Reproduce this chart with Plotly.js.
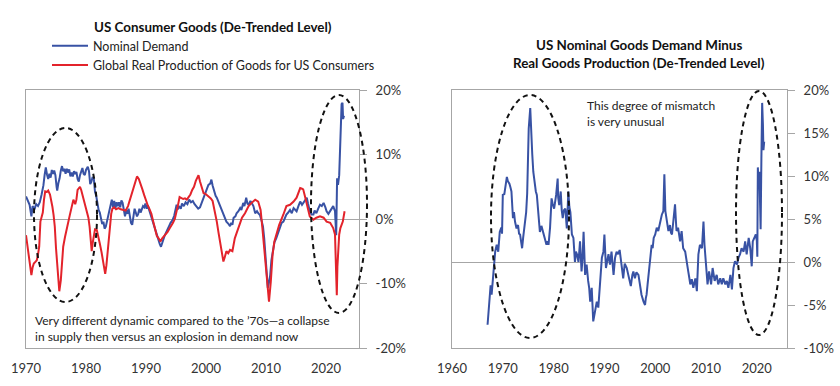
<!DOCTYPE html>
<html>
<head>
<meta charset="utf-8">
<script src="https://cdn.plot.ly/plotly-3.0.1.min.js"></script>
<style>html,body{margin:0;padding:0;background:#fff;}#chart{width:840px;height:386px;}</style>
</head>
<body>
<div id="chart"></div>
<script>
// ---- Left chart: US Consumer Goods (De-Trended Level), % ----
const demandYears = [1970.0,1970.3,1970.6,1970.9,1971.1,1971.4,1971.7,1972.0,1972.3,1972.6,1972.9,1973.1,1973.3,1973.5,1973.7,1973.9,1974.1,1974.3,1974.5,1974.7,1974.9,1975.1,1975.2,1975.4,1975.6,1975.8,1976.0,1976.2,1976.4,1976.6,1976.8,1977.0,1977.2,1977.4,1977.6,1977.8,1978.0,1978.2,1978.4,1978.6,1978.8,1979.0,1979.2,1979.4,1979.6,1979.8,1980.0,1980.3,1980.5,1980.7,1980.9,1981.1,1981.3,1981.5,1981.7,1981.9,1982.1,1982.3,1982.5,1982.7,1982.9,1983.1,1983.3,1983.5,1983.7,1983.9,1984.1,1984.3,1984.5,1984.7,1984.9,1985.1,1985.3,1985.5,1985.7,1985.9,1986.1,1986.3,1986.5,1986.7,1986.9,1987.1,1987.3,1987.5,1987.7,1987.9,1988.1,1988.3,1988.5,1988.7,1988.9,1989.1,1989.3,1989.5,1989.7,1989.9,1990.1,1990.3,1990.5,1990.7,1990.9,1991.1,1991.3,1991.5,1991.7,1991.9,1992.1,1992.3,1992.5,1992.7,1992.9,1993.1,1993.3,1993.6,1993.9,1994.1,1994.4,1994.7,1994.9,1995.1,1995.3,1995.5,1995.8,1996.0,1996.3,1996.6,1996.9,1997.2,1997.5,1997.8,1998.1,1998.4,1998.7,1999.0,1999.3,1999.6,1999.9,2000.1,2000.4,2000.7,2000.9,2001.1,2001.3,2001.6,2001.8,2002.1,2002.3,2002.6,2002.9,2003.1,2003.4,2003.7,2004.0,2004.2,2004.4,2004.6,2004.9,2005.1,2005.4,2005.7,2005.9,2006.2,2006.4,2006.7,2006.9,2007.1,2007.4,2007.6,2007.9,2008.2,2008.5,2008.7,2009.0,2009.3,2009.5,2009.7,2009.9,2010.1,2010.3,2010.5,2010.7,2010.9,2011.1,2011.4,2011.7,2012.0,2012.3,2012.6,2012.9,2013.2,2013.4,2013.7,2014.0,2014.3,2014.6,2014.9,2015.1,2015.4,2015.7,2016.0,2016.2,2016.5,2016.8,2017.0,2017.3,2017.6,2017.9,2018.1,2018.4,2018.7,2019.0,2019.3,2019.6,2019.9,2020.1,2020.4,2020.7,2020.9,2021.2,2021.5,2021.7,2021.85,2022.0,2022.2,2022.4,2022.6,2022.75,2022.85,2023.0];
const demandValues = [3.5,2.8,2.2,0.4,2.0,1.5,2.3,2.0,2.6,3.8,5.2,6.8,8.0,6.9,6.2,7.0,6.4,7.6,7.0,7.5,6.8,5.0,4.4,5.6,6.3,7.5,8.2,7.4,7.8,7.0,7.8,7.2,7.7,6.6,7.2,6.6,7.4,7.0,7.3,6.2,5.8,6.8,7.4,7.9,7.0,6.8,7.6,8.1,7.4,5.4,5.8,6.5,6.3,4.2,3.6,2.4,1.4,1.0,-0.2,-0.8,-0.4,-1.5,-1.2,-0.4,0.6,1.3,2.4,3.0,1.8,2.8,1.6,2.6,2.0,2.6,1.8,2.9,2.5,1.2,0.4,1.4,0.8,1.6,0.5,-0.6,-0.9,0.2,1.6,1.0,0.4,0.8,1.6,1.0,1.4,2.0,1.8,2.4,1.6,2.1,1.5,0.9,0.2,-0.4,-1.0,-1.7,-2.3,-2.9,-3.4,-3.9,-4.3,-3.6,-3.2,-2.6,-2.2,-1.7,-1.0,-0.6,-0.2,0.5,1.4,2.2,1.5,2.0,1.6,2.4,2.0,2.6,2.3,3.0,2.6,2.8,2.3,2.0,1.6,1.8,2.6,3.3,4.2,4.8,5.3,5.5,6.1,5.2,4.5,3.6,3.3,2.6,2.2,1.4,0.7,0.2,-0.4,-0.7,-1.1,-0.6,-0.9,0.2,0.4,0.9,1.2,1.7,1.4,2.5,2.0,3.3,2.4,2.2,2.8,2.5,2.0,0.9,1.2,0.9,0.6,-0.4,-1.2,-3.0,-5.5,-8.0,-10.7,-9.8,-8.7,-6.4,-5.0,-3.6,-3.0,-2.2,-1.4,-0.6,-0.4,0.3,0.7,1.0,1.4,0.9,1.7,1.4,1.2,2.0,2.7,2.2,2.5,2.9,3.3,2.4,1.2,0.7,0.7,1.3,0.9,1.6,2.2,2.0,2.5,1.8,1.2,0.8,1.2,1.6,2.0,1.2,-2.5,6.3,5.3,6.8,11.5,17.8,18.0,15.5,16.0];

const productionYears = [1970.0,1970.3,1970.5,1970.7,1970.9,1971.1,1971.3,1971.6,1971.8,1972.0,1972.2,1972.4,1972.6,1972.8,1973.0,1973.2,1973.5,1973.7,1974.0,1974.2,1974.4,1974.6,1974.8,1975.0,1975.2,1975.4,1975.55,1975.8,1976.0,1976.2,1976.5,1976.8,1977.0,1977.3,1977.6,1977.9,1978.2,1978.4,1978.6,1978.8,1979.0,1979.2,1979.4,1979.7,1979.9,1980.2,1980.4,1980.6,1980.8,1980.95,1981.1,1981.3,1981.5,1981.8,1982.0,1982.3,1982.6,1982.9,1983.2,1983.4,1983.6,1983.8,1984.0,1984.2,1984.4,1984.7,1985.0,1985.4,1985.8,1986.2,1986.6,1987.0,1987.3,1987.6,1987.9,1988.2,1988.5,1988.8,1989.1,1989.4,1989.7,1990.0,1990.3,1990.6,1990.9,1991.2,1991.5,1991.8,1992.1,1992.4,1992.7,1993.0,1993.3,1993.6,1993.9,1994.2,1994.5,1994.8,1995.1,1995.3,1995.6,1995.9,1996.2,1996.5,1996.8,1997.1,1997.4,1997.7,1998.0,1998.3,1998.6,1998.75,1999.0,1999.3,1999.6,1999.9,2000.2,2000.5,2000.8,2001.1,2001.4,2001.8,2002.1,2002.3,2002.6,2002.9,2003.1,2003.4,2003.7,2004.0,2004.4,2004.8,2005.1,2005.4,2005.7,2006.0,2006.5,2007.1,2007.6,2008.2,2008.7,2009.1,2009.4,2009.6,2009.8,2010.0,2010.2,2010.5,2010.8,2011.1,2011.4,2011.7,2012.2,2012.9,2013.4,2014.0,2014.6,2015.1,2015.5,2015.7,2016.0,2016.2,2016.5,2016.8,2017.1,2017.3,2017.9,2018.4,2019.0,2019.6,2020.1,2020.7,2021.2,2021.5,2021.7,2021.8,2021.9,2022.2,2022.4,2022.8,2023.1];
const productionValues = [-2.5,-4.5,-5.9,-7.5,-8.7,-7.5,-6.9,-6.6,-6.4,-5.5,-4.3,-0.4,0.5,1.0,3.0,4.3,4.2,4.4,3.8,3.0,1.9,0.6,-1.2,-4.5,-7.5,-10.0,-11.2,-9.5,-6.8,-4.3,-2.8,-1.7,-0.9,0.6,1.8,3.0,2.3,3.0,4.5,4.8,5.0,4.5,3.8,2.6,1.6,0.8,0.2,-1.2,-3.5,-5.0,-3.8,-2.2,-1.6,-1.7,-2.4,-3.8,-5.2,-7.0,-8.5,-7.2,-5.3,-3.0,-0.7,0.8,1.6,1.8,1.5,1.7,1.5,1.4,1.3,2.0,3.0,4.0,5.0,6.0,6.6,6.2,5.5,4.6,3.7,2.8,2.1,1.5,0.8,-0.4,-1.5,-2.6,-3.0,-3.5,-3.0,-2.7,-2.3,-2.0,-1.5,-1.1,-0.6,0.0,1.0,2.0,3.4,3.2,3.1,3.2,3.0,3.4,3.8,4.5,5.0,5.9,6.6,6.8,5.8,4.8,4.0,3.9,3.7,3.4,3.2,2.8,1.6,-0.4,-2.2,-3.5,-5.0,-6.6,-6.0,-5.0,-5.3,-4.8,-5.0,-3.0,-2.2,-1.4,-0.6,0.2,0.9,2.0,2.5,3.0,2.7,1.4,-1.4,-3.5,-5.5,-7.5,-9.7,-12.8,-9.7,-5.5,-3.5,-2.4,-0.9,0.7,2.0,2.2,2.7,3.3,4.2,4.8,4.7,4.6,3.5,2.2,1.0,0.4,-0.1,0.2,0.4,0.2,-0.4,-0.6,-1.4,-2.4,-8.7,-11.8,-7.4,-2.4,-1.4,-0.4,1.2];

// ---- Right chart: Nominal demand minus real production, % ----
const gapYears = [1967.0,1967.2,1967.3,1967.5,1967.6,1967.8,1968.0,1968.3,1968.5,1968.8,1969.1,1969.4,1969.7,1969.85,1970.0,1970.3,1970.5,1970.8,1971.0,1971.3,1971.5,1971.7,1972.0,1972.2,1972.4,1972.7,1973.0,1973.2,1973.4,1973.6,1973.8,1974.0,1974.2,1974.4,1974.6,1974.8,1974.9,1975.1,1975.4,1975.5,1975.6,1975.8,1976.0,1976.3,1976.5,1976.7,1977.0,1977.3,1977.6,1977.9,1978.1,1978.3,1978.6,1978.8,1979.0,1979.3,1979.6,1979.8,1980.1,1980.3,1980.5,1980.8,1980.9,1981.1,1981.4,1981.6,1981.8,1982.0,1982.3,1982.6,1982.9,1983.1,1983.3,1983.6,1983.9,1984.2,1984.4,1984.6,1984.9,1985.2,1985.5,1985.7,1985.9,1986.2,1986.5,1986.8,1987.0,1987.2,1987.5,1987.8,1988.1,1988.5,1988.8,1989.1,1989.5,1989.8,1990.0,1990.3,1990.6,1990.8,1991.1,1991.4,1991.8,1992.1,1992.4,1992.7,1993.0,1993.2,1993.5,1993.7,1994.0,1994.4,1994.7,1995.0,1995.2,1995.5,1995.7,1996.0,1996.3,1996.7,1997.0,1997.3,1997.7,1998.0,1998.15,1998.3,1998.5,1998.7,1999.0,1999.3,1999.5,1999.7,2000.0,2000.3,2000.6,2001.0,2001.3,2001.6,2001.8,2002.0,2002.3,2002.6,2002.9,2003.1,2003.3,2003.6,2003.9,2004.1,2004.2,2004.5,2004.9,2005.2,2005.5,2005.9,2006.2,2006.5,2006.7,2006.9,2007.2,2007.5,2007.9,2008.2,2008.5,2008.8,2009.2,2009.5,2009.7,2010.0,2010.3,2010.6,2011.0,2011.3,2011.7,2012.1,2012.4,2012.8,2013.1,2013.4,2013.8,2014.1,2014.4,2014.8,2015.1,2015.4,2015.7,2016.1,2016.4,2016.7,2017.0,2017.4,2017.7,2018.0,2018.4,2018.7,2019.0,2019.2,2019.5,2019.8,2020.0,2020.1,2020.2,2020.35,2020.5,2020.6,2020.75,2020.9,2021.05,2021.2,2021.3,2021.45];
const gapValues = [-7.3,-5.5,-4.6,-3.0,-2.7,-3.8,-2.2,-0.3,1.2,2.0,1.2,3.5,4.0,3.3,7.8,7.9,8.8,9.9,9.4,9.1,8.7,8.2,5.1,5.8,4.7,3.9,4.3,3.3,3.2,2.5,1.6,2.8,3.9,4.6,5.8,8.0,10.1,15.5,17.9,16.0,14.4,12.5,10.5,9.0,8.2,7.8,5.1,3.5,4.2,3.5,3.0,2.8,2.0,2.4,2.0,4.0,7.4,6.8,6.2,7.0,7.8,9.7,7.5,6.6,8.2,6.0,5.1,6.0,6.2,3.9,8.2,6.4,5.8,3.2,2.8,0.0,1.2,0.9,0.0,2.4,-1.1,0.5,3.5,-1.5,-0.3,-2.2,-3.0,-4.6,-3.0,-6.9,-5.7,-4.6,-5.3,-2.2,0.5,1.2,3.2,-0.7,0.5,0.9,-0.3,1.2,-1.5,0.5,1.2,0.9,1.4,0.5,-0.8,-1.9,-0.2,-0.7,-1.5,-2.2,-2.8,-1.5,-1.1,-1.9,-1.2,-1.5,-2.6,-3.8,-4.6,-5.0,-4.2,-3.8,-2.6,-1.5,0.9,2.0,1.6,2.8,3.2,4.0,3.6,4.7,5.5,5.9,10.2,5.9,4.7,3.6,4.3,3.4,3.2,4.7,6.7,4.5,3.6,4.0,2.4,3.6,1.6,1.2,-0.3,-1.1,-1.8,-2.6,-2.0,-3.0,-1.9,-3.4,0.9,2.0,1.6,4.7,2.0,0.1,-2.6,-1.1,-2.6,-0.7,-2.2,-1.5,-2.6,-1.9,-2.6,-1.9,-2.6,-2.2,-3.0,-1.5,-3.2,-0.7,0.1,-0.3,0.5,0.9,1.6,1.2,2.4,0.9,2.8,1.6,-0.5,2.4,2.8,3.2,2.5,0.6,11.0,9.0,10.5,8.5,3.8,12.0,18.5,16.0,13.0,14.0];

// ---- Tick labels ----
const leftYearTicks = [1970, 1980, 1990, 2000, 2010, 2020];
const leftYearLabels = ['1970', '1980', '1990', '2000', '2010', '2020'];
const rightYearTicks = [1960, 1970, 1980, 1990, 2000, 2010, 2020];
const rightYearLabels = ['1960', '1970', '1980', '1990', '2000', '2010', '2020'];
const leftPctTicks = [-20, -10, 0, 10, 20];
const leftPctLabels = ['-20%', '-10%', '0%', '10%', '20%'];
const rightPctTicks = [-10, -5, 0, 5, 10, 15, 20];
const rightPctLabels = ['-10%', '-5%', '0%', '5%', '10%', '15%', '20%'];

const W = 840, H = 386;
const px = v => v / W;
const py = v => 1 - v / H;
const FONT = 'Lato, "Open Sans", sans-serif';
const BLUE = '#3852a4', RED = '#e3232b', GREY = '#a6a6a6';

const traces = [
  {x: demandYears, y: demandValues, xaxis: 'x', yaxis: 'y', type: 'scatter', mode: 'lines',
   name: 'Nominal Demand', line: {color: BLUE, width: 2}},
  {x: productionYears, y: productionValues, xaxis: 'x', yaxis: 'y', type: 'scatter', mode: 'lines',
   name: 'Global Real Production of Goods for US Consumers', line: {color: RED, width: 2}},
  {x: gapYears, y: gapValues, xaxis: 'x2', yaxis: 'y2', type: 'scatter', mode: 'lines',
   name: 'Nominal demand minus real production', showlegend: false, line: {color: BLUE, width: 2}}
];

const tickFont = {family: FONT, size: 13, color: '#333'};
const yDomain = [py(348), py(90)];

function xBottom(domain, range, anchor, vals, labels) {
  return {domain, range, anchor, showgrid: false, zeroline: false,
    showline: true, linecolor: GREY, linewidth: 1, mirror: true,
    ticks: 'outside', ticklen: 8, tickcolor: 'rgba(0,0,0,0)',
    tickmode: 'array', tickvals: vals, ticktext: labels, tickfont: tickFont, fixedrange: true};
}
function yRight(range, anchor, vals, labels) {
  return {domain: yDomain, range, anchor, side: 'right', showgrid: false,
    zeroline: true, zerolinecolor: GREY, zerolinewidth: 1,
    showline: true, linecolor: GREY, linewidth: 1, mirror: true,
    ticks: 'outside', ticklen: 7, tickcolor: GREY, ticklabelstandoff: 6,
    tickmode: 'array', tickvals: vals, ticktext: labels, tickfont: tickFont, fixedrange: true};
}
function xZeroTicks(over, vals, pos) {
  return {overlaying: over, matches: over, anchor: 'free', position: pos,
    showline: false, showgrid: false, zeroline: false, showticklabels: false,
    ticks: 'outside', ticklen: 5, tickcolor: GREY, tickmode: 'array', tickvals: vals};
}

const dashed = {color: '#111', width: 2, dash: '5px,4px'};
function ellipse(x0, x1, y0, y1) {
  return {type: 'circle', xref: 'paper', yref: 'paper', x0: px(x0), x1: px(x1), y0: py(y1), y1: py(y0), line: dashed, layer: 'above'};
}
function note(text, x, y, opts) {
  return Object.assign({text, x: px(x), y: py(y), xref: 'paper', yref: 'paper', showarrow: false,
    xanchor: 'left', yanchor: 'middle', align: 'left', borderpad: 0,
    font: {family: FONT, size: 12.5, color: '#222'}}, opts || {});
}
const titleFont = {family: FONT, size: 13.4, color: '#111', weight: 'bold'};

const layout = {
  width: W, height: H, margin: {l: 0, r: 0, t: 0, b: 0},
  paper_bgcolor: '#fff', plot_bgcolor: '#fff',
  font: {family: FONT, color: '#222'},
  showlegend: true,
  legend: {x: px(47), y: py(31), xanchor: 'left', yanchor: 'top', itemwidth: 36,
    font: {family: FONT, size: 12.5, color: '#222'}, bgcolor: 'rgba(0,0,0,0)', tracegroupgap: 0},
  xaxis: xBottom([px(26), px(359)], [1970, 2025.5], 'y', leftYearTicks, leftYearLabels),
  yaxis: yRight([-20, 20], 'x', leftPctTicks, leftPctLabels),
  xaxis2: xBottom([px(452), px(787)], [1960, 2025.94], 'y2', rightYearTicks, rightYearLabels),
  yaxis2: yRight([-10, 20], 'x2', rightPctTicks, rightPctLabels),
  xaxis3: xZeroTicks('x', leftYearTicks, py(219)),
  xaxis4: xZeroTicks('x2', rightYearTicks, py(262)),
  shapes: [
    ellipse(34, 97, 128, 302),
    ellipse(311, 367, 95, 313),
    ellipse(491, 569, 95, 338),
    ellipse(736, 782, 91, 335)
  ],
  annotations: [
    note('<b>US Consumer Goods (De-Trended Level)</b>', 212.5, 27, {xanchor: 'center', font: titleFont}),
    note('<b>US Nominal Goods Demand Minus</b>', 639, 45, {xanchor: 'center', font: titleFont}),
    note('<b>Real Goods Production (De-Trended Level)</b>', 639, 63, {xanchor: 'center', font: titleFont}),
    note('Very different dynamic compared to the \u201970s\u2014a collapse<br>in supply then versus an explosion in demand now', 34, 328.5, {font: {family: FONT, size: 12, color: '#222'}}),
    note('This degree of mismatch<br>is very unusual', 586, 114, {font: {family: FONT, size: 12, color: '#222'}})
  ]
};

Plotly.newPlot('chart', traces, layout, {staticPlot: true, displayModeBar: false});
</script>
</body>
</html>
